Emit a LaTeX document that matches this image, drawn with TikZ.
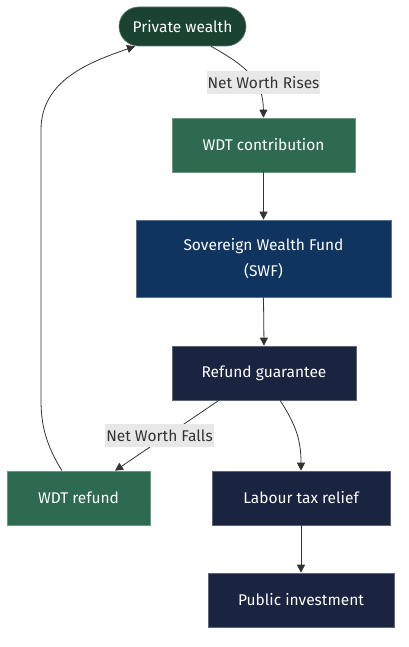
\documentclass[tikz,border=0pt]{standalone}
\usepackage{fontspec}
\setmainfont{Fira Sans}
\usetikzlibrary{arrows.meta,calc}
\definecolor{pwcol}{HTML}{1B4332}
\definecolor{gcol}{HTML}{2D6A4F}
\definecolor{swfcol}{HTML}{0F3460}
\definecolor{navy}{HTML}{1A2340}
\definecolor{edgecol}{HTML}{333333}
\definecolor{lblbg}{HTML}{E8E8E8}
\tikzset{
  box/.style={draw=#1!70!white, fill=#1, line width=0.6pt, text=white, font=\fontsize{15.5}{26}\selectfont, align=center, inner sep=0pt},
  conn/.style={draw=edgecol, line width=0.8pt, -{Triangle[length=8pt,width=8pt]}},
  lbl/.style={fill=lblbg, text=edgecol, font=\fontsize{15.5}{18}\selectfont, inner xsep=1pt, inner ysep=2pt, minimum height=23pt}
}
\begin{document}
\begin{tikzpicture}[x=1pt,y=-1pt]
\useasboundingbox (0,0) rectangle (409,647);
\node[box=pwcol, rounded corners=19.5pt, minimum width=127pt, minimum height=39pt] (pw) at (182.5,26.5) {Private wealth};
\node[box=gcol, minimum width=183pt, minimum height=54pt] (wc) at (263.5,145) {WDT contribution};
\node[box=swfcol, minimum width=255pt, minimum height=77pt] (swf) at (263.5,258.5) {Sovereign Wealth Fund\\(SWF)};
\node[box=navy, minimum width=184pt, minimum height=54pt] (rg) at (264,373) {Refund guarantee};
\node[box=gcol, minimum width=143pt, minimum height=54pt] (wr) at (78.5,498) {WDT refund};
\node[box=navy, minimum width=178pt, minimum height=54pt] (lt) at (301,498) {Labour tax relief};
\node[box=navy, minimum width=186pt, minimum height=54pt] (pi) at (301,600) {Public investment};

\draw[conn] ($(pw.south)+(28.5,0)$) .. controls (250,68) and (263,82) .. (wc.north);
\node[lbl] (l1) at (263.5,82.5) {Net Worth Rises};
\draw[conn] (wc.south) -- (swf.north);
\draw[conn] (swf.south) -- (rg.north);
\draw[conn] ($(rg.south)+(-45,0)$) -- ($(wr.north)+(36.5,0)$);
\node[lbl] (l2) at (159.5,435.5) {Net Worth Falls};
\draw[conn] ($(rg.south)+(16,0)$) .. controls (296,425) and (301,440) .. (lt.north);
\draw[conn] (lt.south) -- (pi.north);
\draw[conn] ($(wr.north)+(-16.5,0)$) .. controls (46,445) and (41,425) .. (41,400) -- (41,130) .. controls (41,80) and (90,62) .. ($(pw.south)+(-47.5,0)$);
\end{tikzpicture}
\end{document}
